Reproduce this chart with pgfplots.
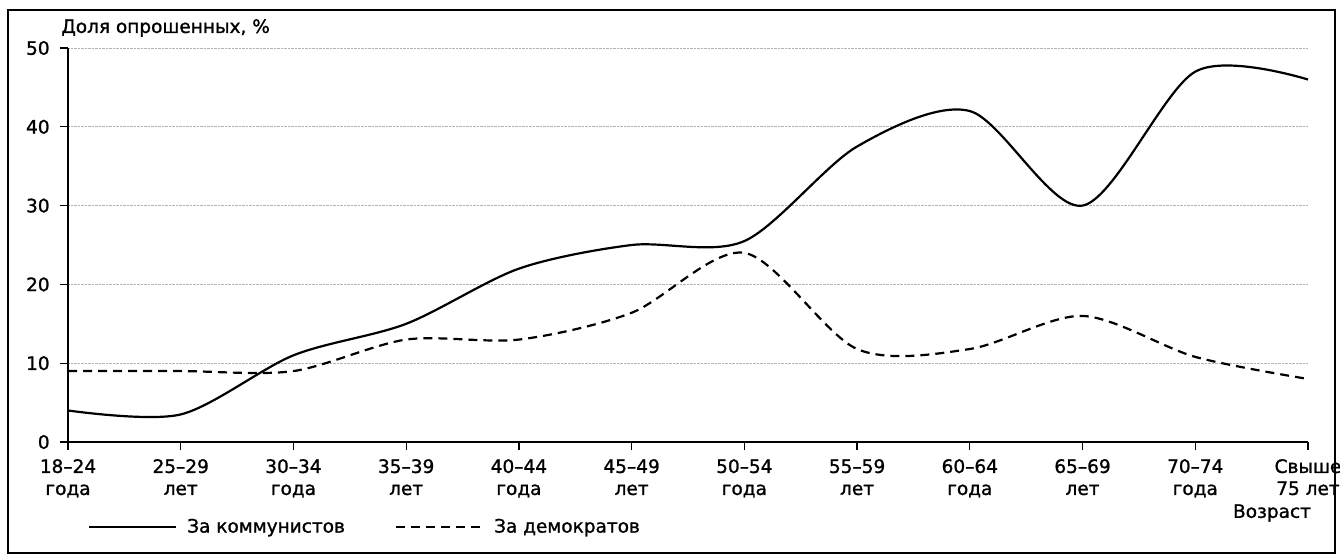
\documentclass[border=0pt]{standalone}
\usepackage{pgfplots}
\pgfplotsset{compat=1.18}
\usepackage{fontspec}
\setmainfont[FakeBold=1.2,BoldFont={DejaVu Sans}]{DejaVu Sans}
\newcommand{\fs}{\fontsize{18.5}{22}\selectfont\bfseries}
\begin{document}
\fs
\begin{tikzpicture}[x=1pt,y=1pt]
\useasboundingbox (0,0) rectangle (1340,558);
\draw[line width=2pt] (8,5) rectangle (1335,548);
\node[anchor=west, font=\fs] at (55,530) {Доля опрошенных, \%};
\node[font=\fs] at (1272,45) {Возраст};
\begin{axis}[
 at={(68pt,116pt)}, anchor=south west,
 scale only axis, width=1240pt, height=394pt,
 xmin=0, xmax=11, ymin=0, ymax=50,
 axis x line=bottom, axis y line=left,
 axis line style={-, line width=1.2pt},
 xtick={0,...,11},
 xticklabels={{18–24\\года},{25–29\\лет},{30–34\\года},{35–39\\лет},{40–44\\года},{45–49\\лет},{50–54\\года},{55–59\\лет},{60–64\\года},{65–69\\лет},{70–74\\года},{Свыше\\75 лет}},
 xticklabel style={align=center, font=\fs, inner sep=2pt, yshift=-7pt},
 yticklabel style={font=\fs, xshift=-4pt},
 /pgf/number format/assume math mode=true,
 ytick={0,10,...,50},
 ymajorgrids, grid style={densely dotted, gray!60, line width=0.8pt},
 tick align=outside, major tick length=8pt,
 tick style={black, line width=1.2pt},
 legend columns=2,
 legend style={at={(rel axis cs:0.016,-0.216)}, anchor=west, draw=none, fill=none, inner sep=0pt,
   font=\fs,
   /tikz/every odd column/.append style={column sep=8pt},
   /tikz/every even column/.append style={column sep=48pt}},
 legend image code/.code={\draw[#1] (0pt,0pt) -- (87pt,0pt);},
 clip=false,
]
\addplot[black, line width=2.2pt, smooth, tension=0.5] coordinates {
 (0,4) (1,3.5) (2,11) (3,15) (4,22) (5,25) (6,25.5) (7,37.5) (8,42) (9,30) (10,47) (11,46)};
\addlegendentry{За коммунистов}
\addplot[black, line width=2.2pt, smooth, tension=0.5, dash pattern=on 9pt off 6pt] coordinates {
 (0,9) (1,9) (2,9) (3,13) (4,13) (5,16.4) (6,24) (7,11.8) (8,11.8) (9,16) (10,10.8) (11,8)};
\addlegendentry{За демократов}
\end{axis}
\end{tikzpicture}
\end{document}
